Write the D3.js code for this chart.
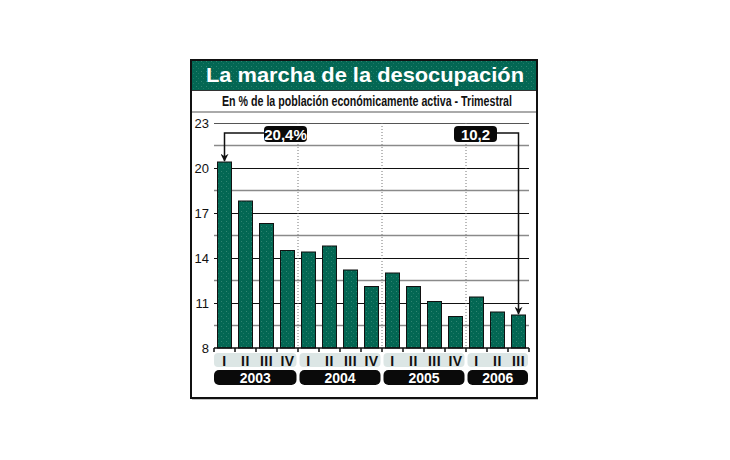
<!DOCTYPE html>
<html>
<head>
<meta charset="utf-8">
<script src="https://cdn.jsdelivr.net/npm/d3@7"></script>
<style>
  body { margin: 0; background: #fff; }
  svg { display: block; }
  .narrow { font-family: "Liberation Sans Narrow", "Arial Narrow", "Liberation Sans", sans-serif; font-weight: bold; }
  .narrow-reg { font-family: "Liberation Sans Narrow", "Arial Narrow", "Liberation Sans", sans-serif; font-weight: normal; }
</style>
</head>
<body>
<div class="plot"></div>
<script>
// data
let quarters = ["I","II","III","IV","I","II","III","IV","I","II","III","IV","I","II","III"];
let years = ["2003","2004","2005","2006"];
let quartersPerYear = [4, 4, 4, 3];
let desocupacion = [20.4, 17.8, 16.3, 14.5, 14.4, 14.8, 13.2, 12.1, 13.0, 12.1, 11.1, 10.1, 11.4, 10.4, 10.2];
let yTicks = [8, 11, 14, 17, 20, 23];
let callouts = [{i: 0, label: "20,4%"}, {i: 14, label: "10,2"}];

let width = 730, height = 460;
let plotLeft = 214, plotRight = 529, plotTop = 123, plotBottom = 348;
let green = "#036753";

let svg = d3.select(".plot").append("svg")
    .attr("width", width)
    .attr("height", height);

// dotted texture
let defs = svg.append("defs");
let pat = defs.append("pattern")
    .attr("id", "dots").attr("width", 5).attr("height", 5)
    .attr("patternUnits", "userSpaceOnUse");
pat.append("rect").attr("width", 5).attr("height", 5).attr("fill", green);
pat.append("rect").attr("x", 1).attr("y", 1).attr("width", 1).attr("height", 1).attr("fill", "#2f8572");
pat.append("rect").attr("x", 3).attr("y", 3).attr("width", 1).attr("height", 1).attr("fill", "#1e7865");

let xScale = d3.scaleBand()
    .domain(d3.range(quarters.length))
    .range([plotLeft, plotRight])
    .paddingInner(1/3)
    .paddingOuter(1/6);

let yScale = d3.scaleLinear()
    .domain([8, 23])
    .range([plotBottom, plotTop]);

// frame
svg.append("rect")
    .attr("x", 191).attr("y", 60).attr("width", 346).attr("height", 338)
    .attr("fill", "#fff").attr("stroke", "#111").attr("stroke-width", 2);
svg.append("line").attr("x1", 537).attr("x2", 537).attr("y1", 61).attr("y2", 399)
    .attr("stroke", "#111").attr("stroke-width", 2);
svg.append("line").attr("x1", 192).attr("x2", 538).attr("y1", 398.5).attr("y2", 398.5)
    .attr("stroke", "#111").attr("stroke-width", 1.5);

// title bar
svg.append("rect")
    .attr("x", 192).attr("y", 61).attr("width", 344).attr("height", 29)
    .attr("fill", "url(#dots)");
svg.append("text")
    .attr("x", 365).attr("y", 82)
    .attr("text-anchor", "middle")
    .attr("fill", "#fff")
    .attr("font-family", "Liberation Sans, Arial, sans-serif")
    .attr("font-weight", "bold")
    .attr("font-size", 21)
    .attr("textLength", 318)
    .attr("lengthAdjust", "spacingAndGlyphs")
    .text("La marcha de la desocupación");
svg.append("line").attr("x1", 192).attr("x2", 536).attr("y1", 90.5).attr("y2", 90.5)
    .attr("stroke", "#333").attr("stroke-width", 1);

svg.append("text")
    .attr("class", "narrow")
    .attr("x", 367).attr("y", 106)
    .attr("text-anchor", "middle")
    .attr("fill", "#111")
    .attr("font-size", 14)
    .attr("textLength", 290)
    .attr("lengthAdjust", "spacingAndGlyphs")
    .text("En % de la población económicamente activa - Trimestral");
svg.append("line").attr("x1", 192).attr("x2", 536).attr("y1", 112).attr("y2", 112)
    .attr("stroke", "#aaa").attr("stroke-width", 2);

// grid
let minorTicks = yTicks.slice(0, -1).map(t => t + 1.5);
svg.append("g").selectAll("line.minor")
    .data(minorTicks).enter().append("line")
    .attr("x1", plotLeft).attr("x2", plotRight)
    .attr("y1", d => yScale(d)).attr("y2", d => yScale(d))
    .attr("stroke", "#8a8a8a").attr("stroke-width", 1.5);

let yAxis = d3.axisLeft(yScale)
    .tickValues(yTicks)
    .tickSize(0)
    .tickPadding(5);

let gy = svg.append("g")
    .attr("transform", "translate(" + plotLeft + ",0)")
    .call(yAxis);
gy.select(".domain").remove();
gy.selectAll(".tick text")
    .attr("class", "narrow-reg")
    .attr("font-size", 13)
    .attr("fill", "#111");
gy.selectAll(".tick")
    .filter(d => d > 8)
    .append("line")
    .attr("x1", 0).attr("x2", plotRight - plotLeft)
    .attr("stroke", d => d === 23 ? "#555" : "#111")
    .attr("stroke-width", 1.2);

// year separators (dotted)
let yearStart = [];
let acc = 0;
quartersPerYear.forEach(n => { yearStart.push(acc); acc += n; });
let step = xScale.step();
let sepX = yearStart.slice(1).map(i => xScale(i) - (step - xScale.bandwidth()) / 2);
svg.append("g").selectAll("line")
    .data(sepX).enter().append("line")
    .attr("x1", d => d).attr("x2", d => d)
    .attr("y1", plotTop).attr("y2", plotBottom)
    .attr("stroke", "#777").attr("stroke-width", 1)
    .attr("stroke-dasharray", "1,2");

// bars
svg.append("g").selectAll("rect")
    .data(desocupacion).enter().append("rect")
    .attr("x", (d, i) => xScale(i))
    .attr("y", d => yScale(d))
    .attr("width", xScale.bandwidth())
    .attr("height", d => plotBottom - yScale(d))
    .attr("fill", "url(#dots)")
    .attr("stroke", "#111")
    .attr("stroke-width", 1);

// baseline with small ticks between bars
svg.append("line").attr("x1", plotLeft).attr("x2", plotRight)
    .attr("y1", plotBottom).attr("y2", plotBottom)
    .attr("stroke", "#111").attr("stroke-width", 1.5);
let gapX = d3.range(quarters.length + 1).map(i => plotLeft + i * step);
svg.append("g").selectAll("line")
    .data(gapX).enter().append("line")
    .attr("x1", d => d).attr("x2", d => d)
    .attr("y1", plotBottom).attr("y2", plotBottom + 4)
    .attr("stroke", "#111").attr("stroke-width", 1.5);

// year groups: quarter strip and year pill
let groupEdges = yearStart.map((s, k) => {
    let x0 = k === 0 ? plotLeft : sepX[k - 1] + 1.5;
    let x1 = k === years.length - 1 ? plotRight - 1 : sepX[k] - 1.5;
    return {x0: x0, x1: x1, year: years[k]};
});
svg.append("g").selectAll("rect")
    .data(groupEdges).enter().append("rect")
    .attr("x", d => d.x0).attr("y", 353)
    .attr("width", d => d.x1 - d.x0).attr("height", 14)
    .attr("rx", 4)
    .attr("fill", "#dce6e5");
svg.append("g").selectAll("rect")
    .data(groupEdges).enter().append("rect")
    .attr("x", d => d.x0).attr("y", 370)
    .attr("width", d => d.x1 - d.x0).attr("height", 15)
    .attr("rx", 5)
    .attr("fill", "#0a0a0a");
svg.append("g").selectAll("text")
    .data(groupEdges).enter().append("text")
    .attr("x", d => (d.x0 + d.x1) / 2).attr("y", 383)
    .attr("text-anchor", "middle")
    .attr("fill", "#fff")
    .attr("font-family", "Liberation Sans, Arial, sans-serif")
    .attr("font-weight", "bold")
    .attr("font-size", 14)
    .text(d => d.year);

svg.append("g").selectAll("text")
    .data(quarters).enter().append("text")
    .attr("class", "narrow")
    .attr("x", (d, i) => xScale(i) + xScale.bandwidth() / 2)
    .attr("y", 365.5)
    .attr("text-anchor", "middle")
    .attr("fill", "#111")
    .attr("font-size", 14)
    .attr("letter-spacing", 0.5)
    .text(d => d);

// callouts
defs.append("marker")
    .attr("id", "arrow").attr("viewBox", "0 0 10 10")
    .attr("refX", 9).attr("refY", 5)
    .attr("markerWidth", 8).attr("markerHeight", 8)
    .attr("orient", "auto-start-reverse")
    .attr("markerUnits", "userSpaceOnUse")
    .append("path").attr("d", "M0,0 L10,5 L0,10 L3,5 Z").attr("fill", "#111");

let boxes = [{x: 264, w: 43}, {x: 454, w: 43}];
callouts.forEach((c, k) => {
    let b = boxes[k];
    let cx = xScale(c.i) + xScale.bandwidth() / 2;
    let ly = 133;
    let fromX = cx < b.x ? b.x : b.x + b.w;
    svg.append("path")
        .attr("d", "M" + fromX + "," + ly + " H" + cx + " V" + (yScale(desocupacion[c.i]) - 1))
        .attr("fill", "none").attr("stroke", "#111").attr("stroke-width", 1.5)
        .attr("marker-end", "url(#arrow)");
    svg.append("rect")
        .attr("x", b.x).attr("y", 126).attr("width", b.w).attr("height", 16)
        .attr("rx", 4).attr("fill", "#0a0a0a");
    svg.append("text")
        .attr("class", "narrow")
        .attr("x", b.x + b.w / 2).attr("y", 139.5)
        .attr("text-anchor", "middle")
        .attr("fill", "#fff")
        .attr("font-size", 15)
        .text(c.label);
});
</script>
</body>
</html>
